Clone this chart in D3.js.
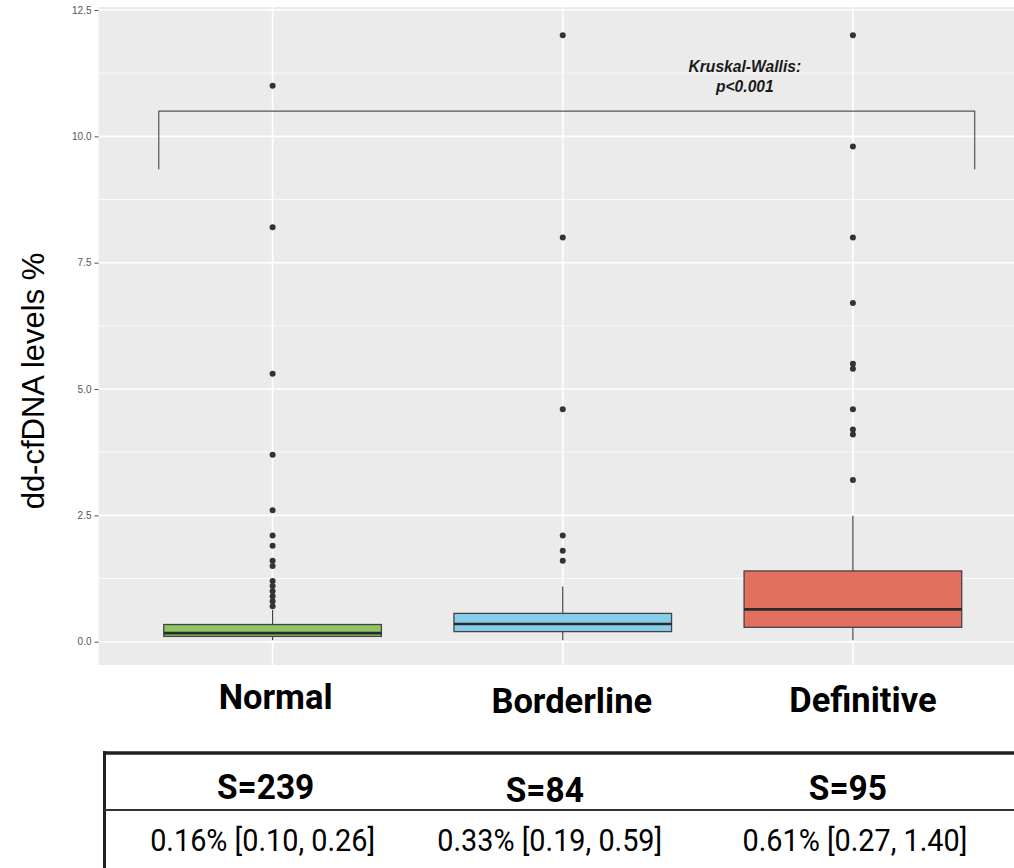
<!DOCTYPE html>
<html><head><meta charset="utf-8">
<script src="https://cdn.jsdelivr.net/npm/d3@7"></script>
<style>body{margin:0;background:#fff}svg{display:block}</style>
</head><body>
<svg id="c" width="1014" height="868"></svg>
<script>
const categories = ["Normal", "Borderline", "Definitive"];
const whiskerLow = [0.03, 0.03, 0.03];
const q1 = [0.105, 0.20, 0.285];
const median = [0.17, 0.35, 0.64];
const q3 = [0.34, 0.56, 1.40];
const whiskerHigh = [0.63, 1.09, 2.49];
const outliersNormal = [11.0, 8.2, 5.3, 3.7, 2.6, 2.1, 1.9, 1.6, 1.5, 1.2, 1.1, 1.0, 0.9, 0.8, 0.7];
const outliersBorderline = [12.0, 8.0, 4.6, 2.1, 1.8, 1.6];
const outliersDefinitive = [12.0, 9.8, 8.0, 6.7, 5.5, 5.4, 4.6, 4.2, 4.1, 3.2];
const fillColors = ["#8dc663", "#87ceeb", "#e3705f"];
const yTicks = [0, 2.5, 5, 7.5, 10, 12.5];
const yMinor = [1.25, 3.75, 6.25, 8.75, 11.25];
const tableHeaders = ["S=239", "S=84", "S=95"];
const tableValues = ["0.16% [0.10, 0.26]", "0.33% [0.19, 0.59]", "0.61% [0.27, 1.40]"];
const annotation = ["Kruskal-Wallis:", "p<0.001"];
const bracket = {low: 9.35, high: 10.5};

const outliers = [outliersNormal, outliersBorderline, outliersDefinitive];
const svg = d3.select("#c");
const panel = {left: 98.5, right: 1027, top: 7, bottom: 665};

const x = d3.scalePoint().domain(categories).range([panel.left, panel.right]).padding(0.6);
const step = x.step();
const y = d3.scaleLinear().domain([0, 12.5]).range([641.7, 10]);

// panel background
svg.append("rect").attr("x", panel.left).attr("y", panel.top)
  .attr("width", panel.right - panel.left).attr("height", panel.bottom - panel.top)
  .attr("fill", "#ebebeb");

// gridlines
svg.append("g").selectAll("line").data(yMinor).join("line")
  .attr("x1", panel.left).attr("x2", panel.right)
  .attr("y1", d => y(d)).attr("y2", d => y(d))
  .attr("stroke", "#fff").attr("stroke-width", 0.8);
svg.append("g").selectAll("line").data(yTicks).join("line")
  .attr("x1", panel.left).attr("x2", panel.right)
  .attr("y1", d => y(d)).attr("y2", d => y(d))
  .attr("stroke", "#fff").attr("stroke-width", 1.6);
svg.append("g").selectAll("line").data(categories).join("line")
  .attr("x1", d => x(d)).attr("x2", d => x(d))
  .attr("y1", panel.top).attr("y2", panel.bottom)
  .attr("stroke", "#fff").attr("stroke-width", 1.6);

// y axis
const yAxis = svg.append("g").attr("transform", `translate(${panel.left},0)`)
  .call(d3.axisLeft(y).tickValues(yTicks).tickFormat(d3.format(".1f")).tickSize(4).tickPadding(3));
yAxis.select(".domain").remove();
yAxis.selectAll(".tick line").attr("stroke", "#555").attr("stroke-width", 1);
yAxis.selectAll(".tick text").attr("fill", "#555").attr("font-size", 10)
  .attr("font-family", "Liberation Sans, Arial, sans-serif");

// y title
svg.append("text").attr("transform", `translate(44,381) rotate(-90)`)
  .attr("text-anchor", "middle").attr("font-family", "Liberation Sans, Arial, sans-serif")
  .attr("font-size", 31).attr("fill", "#000").text("dd-cfDNA levels %");

// boxes
const bw = step * 0.75;
const g = svg.append("g");
categories.forEach((c, i) => {
  const cx = x(c);
  g.append("line").attr("x1", cx).attr("x2", cx).attr("y1", y(whiskerHigh[i])).attr("y2", y(q3[i]))
    .attr("stroke", "#444").attr("stroke-width", 1.2);
  g.append("line").attr("x1", cx).attr("x2", cx).attr("y1", y(q1[i])).attr("y2", y(whiskerLow[i]))
    .attr("stroke", "#444").attr("stroke-width", 1.2);
  g.append("rect").attr("x", cx - bw / 2).attr("y", y(q3[i])).attr("width", bw)
    .attr("height", y(q1[i]) - y(q3[i])).attr("fill", fillColors[i])
    .attr("stroke", "#444").attr("stroke-width", 1.3);
  g.append("line").attr("x1", cx - bw / 2).attr("x2", cx + bw / 2).attr("y1", y(median[i])).attr("y2", y(median[i]))
    .attr("stroke", "#2a2a2a").attr("stroke-width", 2.6);
  g.append("g").selectAll("circle").data(outliers[i]).join("circle")
    .attr("cx", cx).attr("cy", d => y(d)).attr("r", 3).attr("fill", "#333");
});

// bracket
const bx1 = x(categories[0]) - bw / 2 - 5, bx2 = x(categories[2]) + bw / 2 + 13;
svg.append("path")
  .attr("d", `M${bx1},${y(bracket.low)}V${y(bracket.high)}H${bx2}V${y(bracket.low)}`)
  .attr("fill", "none").attr("stroke", "#555").attr("stroke-width", 1.2);
svg.append("g").selectAll("text").data(annotation).join("text")
  .attr("transform", (d, i) => `translate(${(x(categories[1]) + x(categories[2])) / 2 + 37},${72 + i * 20}) scale(0.92,1)`)
  .attr("text-anchor", "middle").attr("font-family", "Liberation Sans, Arial, sans-serif")
  .attr("font-size", 17).attr("font-weight", "bold").attr("font-style", "italic")
  .attr("fill", "#1a1a1a").text(d => d);

// category labels
svg.append("g").selectAll("text").data(categories).join("text")
  .attr("x", (d, i) => x(d) + [3, 9, 10][i]).attr("y", (d, i) => [709, 713, 712][i])
  .attr("text-anchor", "middle").attr("font-family", "Roboto, sans-serif")
  .attr("font-weight", "bold").attr("font-size", 34.5).attr("fill", "#000").text(d => d);

// table
const t = svg.append("g");
t.append("line").attr("x1", 103).attr("x2", 1014).attr("y1", 753).attr("y2", 753)
  .attr("stroke", "#222").attr("stroke-width", 3.5);
t.append("line").attr("x1", 104.5).attr("x2", 104.5).attr("y1", 751).attr("y2", 868)
  .attr("stroke", "#222").attr("stroke-width", 3);
t.append("line").attr("x1", 104).attr("x2", 1014).attr("y1", 810).attr("y2", 810)
  .attr("stroke", "#333").attr("stroke-width", 2);
const colX = categories.map(c => x(c));
t.selectAll(".h").data(tableHeaders).join("text").attr("class", "h")
  .attr("transform", (d, i) => `translate(${colX[i] + [-7, -18, -5][i]},${[799, 802, 800][i]}) scale(0.93,1)`)
  .attr("text-anchor", "middle").attr("font-family", "Roboto, sans-serif")
  .attr("font-weight", "bold").attr("font-size", 36).attr("fill", "#000").text(d => d);
t.selectAll(".v").data(tableValues).join("text").attr("class", "v")
  .attr("transform", (d, i) => `translate(${colX[i] + [-10, -13, 2][i]},${851}) scale(0.93,1)`)
  .attr("text-anchor", "middle").attr("font-family", "Roboto, sans-serif")
  .attr("font-size", 31).attr("fill", "#000").text(d => d);
</script>
</body></html>
